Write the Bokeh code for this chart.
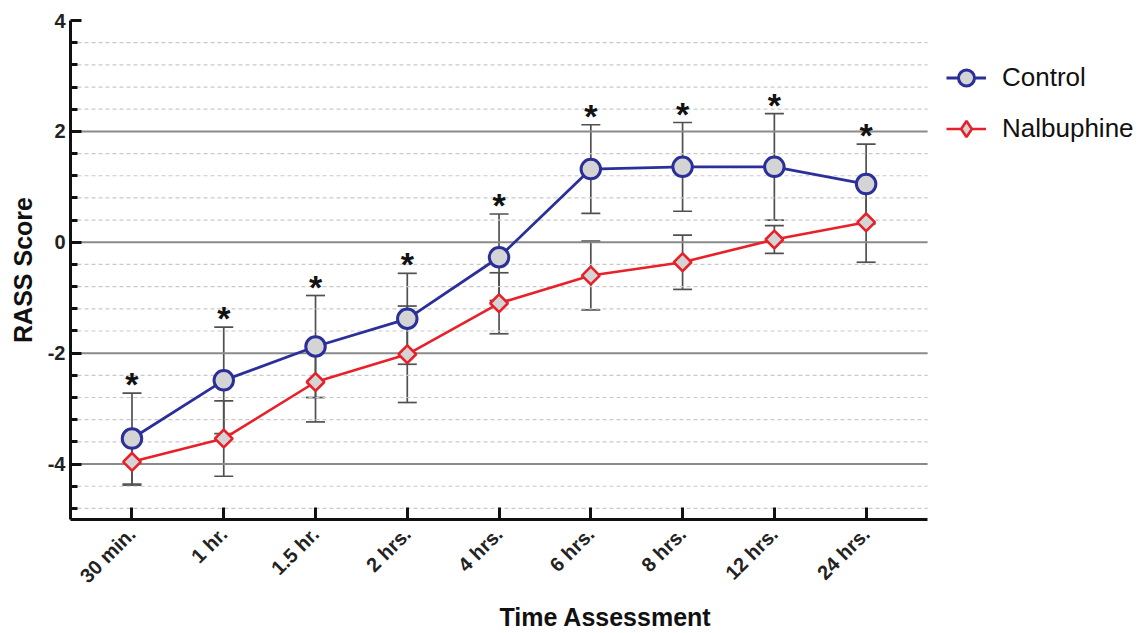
import math
from bokeh.plotting import figure
from bokeh.models import (ColumnDataSource, FixedTicker, Whisker, TeeHead,
                          Legend, LegendItem, Range1d)
from bokeh.core.properties import value
from bokeh.embed import file_html
from bokeh.resources import INLINE

# ---------------- data ----------------
categories = ["30 min.", "1 hr.", "1.5 hr.", "2 hrs.", "4 hrs.",
              "6 hrs.", "8 hrs.", "12 hrs.", "24 hrs."]
control_mean = [-3.54, -2.49, -1.88, -1.38, -0.27, 1.32, 1.36, 1.36, 1.05]
control_sd = [0.82, 0.96, 0.92, 0.82, 0.78, 0.80, 0.80, 0.96, 0.72]
nalb_mean = [-3.96, -3.54, -2.52, -2.02, -1.10, -0.60, -0.36, 0.05, 0.36]
nalb_sd = [0.42, 0.68, 0.72, 0.87, 0.55, 0.62, 0.49, 0.25, 0.72]
significant = ["*", "*", "*", "*", "*", "*", "*", "*", "*"]

y_major = [-4, -2, 0, 2, 4]
y_grid_major = [-4, -2, 0, 2]
y_minor = [-4.8, -4.4, -3.6, -3.2, -2.8, -2.4, -1.6, -1.2, -0.8, -0.4,
           0.4, 0.8, 1.2, 1.6, 2.4, 2.8, 3.2, 3.6]

FONT = "Liberation Sans"
BLUE = "#2b2f9a"
RED = "#e8202a"
FILL = "#d4d4d4"
BAR = "#505050"

X_LO, X_HI = -0.67, 8.67     # extent of the drawn x axis
xs = list(range(len(categories)))

c_src = ColumnDataSource(dict(
    x=xs, y=control_mean,
    upper=[m + s for m, s in zip(control_mean, control_sd)],
    lower=[m - s for m, s in zip(control_mean, control_sd)],
    star=significant))
n_src = ColumnDataSource(dict(
    x=xs, y=nalb_mean,
    upper=[m + s for m, s in zip(nalb_mean, nalb_sd)],
    lower=[m - s for m, s in zip(nalb_mean, nalb_sd)]))

# frame extends to the right edge so the legend can sit inside it;
# the axis and grid lines are limited to X_LO..X_HI
p = figure(width=1140, height=633,
           x_range=Range1d(X_LO, 10.99), y_range=Range1d(-5, 4),
           output_backend="svg", toolbar_location=None,
           min_border_left=70, min_border_right=0,
           min_border_top=20, min_border_bottom=114)
p.outline_line_color = None
p.background_fill_color = "white"
p.xgrid.visible = False
p.ygrid.visible = False

# ---- grid lines (bounded to the axis extent) ----
p.segment(x0=[X_LO] * len(y_minor), x1=[X_HI] * len(y_minor),
          y0=y_minor, y1=y_minor, line_color="#c9c9c9",
          line_width=1.2, line_dash="4 3")
p.segment(x0=[X_LO] * len(y_grid_major), x1=[X_HI] * len(y_grid_major),
          y0=y_grid_major, y1=y_grid_major, line_color="#8a8a8a",
          line_width=2)

# ---- axes ----
p.yaxis.ticker = FixedTicker(ticks=y_major, minor_ticks=y_minor)
p.yaxis.major_label_overrides = {t: str(t) for t in y_major}
p.xaxis.ticker = FixedTicker(ticks=xs)
p.xaxis.major_label_overrides = {i: c for i, c in zip(xs, categories)}
p.xaxis.major_label_orientation = math.pi / 4
p.xaxis.bounds = (X_LO, X_HI)

for ax in (p.xaxis[0], p.yaxis[0]):
    ax.axis_line_color = "#111111"
    ax.axis_line_width = 3
    ax.major_tick_line_color = "#111111"
    ax.major_tick_line_width = 3
    ax.major_tick_out = 0
    ax.major_label_text_font = FONT
    ax.major_label_text_font_style = "bold"
    ax.major_label_text_color = "#222222"
    ax.axis_label_text_font = FONT
    ax.axis_label_text_font_style = "bold"
    ax.axis_label_text_font_size = "25px"
    ax.axis_label_text_color = "#111111"

p.xaxis.major_tick_in = 12
p.xaxis.minor_tick_line_color = None
p.xaxis.major_label_text_font_size = "20px"
p.xaxis.major_label_standoff = 11
p.xaxis.axis_label = "Time Assessment"
p.xaxis.axis_label_standoff = 5

p.yaxis.major_tick_in = 11
p.yaxis.minor_tick_in = 7
p.yaxis.minor_tick_out = 0
p.yaxis.minor_tick_line_color = "#111111"
p.yaxis.minor_tick_line_width = 3
p.yaxis.major_label_text_font_size = "20px"
p.yaxis.major_label_standoff = 5
p.yaxis.axis_label = "RASS Score"
p.yaxis.axis_label_standoff = 8

# ---- error bars ----
for src in (c_src, n_src):
    w = Whisker(source=src, base="x", upper="upper", lower="lower",
                dimension="height", line_color=BAR, line_width=1.7,
                upper_head=TeeHead(size=19, line_color=BAR, line_width=1.7),
                lower_head=TeeHead(size=19, line_color=BAR, line_width=1.7))
    p.add_layout(w)

# ---- lines & markers ----
c_line = p.line("x", "y", source=c_src, line_color=BLUE, line_width=2.8)
n_line = p.line("x", "y", source=n_src, line_color=RED, line_width=2.6)
# small diamonds used as the legend key; fully covered by the rotated squares
n_key = p.scatter("x", "y", source=n_src, marker="diamond", size=12,
                  fill_color=FILL, line_color=RED, line_width=2.6)
n_mark = p.scatter("x", "y", source=n_src, marker="square", size=12.5,
                   angle=math.pi / 4, fill_color=FILL, line_color=RED,
                   line_width=2.6)
c_mark = p.scatter("x", "y", source=c_src, marker="circle", size=19.5,
                   fill_color=FILL, line_color=BLUE, line_width=3)

# ---- significance stars ----
p.text("x", "upper", text="star", source=c_src,
       text_font=value(FONT), text_font_style="bold",
       text_font_size="34px", text_align="center",
       text_baseline="alphabetic", text_color="#111111", y_offset=-9)

# ---- legend ----
legend = Legend(items=[LegendItem(label="Control", renderers=[c_line, c_mark]),
                       LegendItem(label="Nalbuphine", renderers=[n_line, n_key])],
                location=(876, 368), orientation="vertical",
                border_line_color=None, background_fill_alpha=0,
                padding=0, margin=0, spacing=6,
                glyph_width=40, glyph_height=45, label_height=45,
                label_standoff=16,
                label_text_font=FONT, label_text_font_size="26px",
                label_text_color="#111111")
p.add_layout(legend)

open("out.html", "w").write(file_html(p, INLINE))
